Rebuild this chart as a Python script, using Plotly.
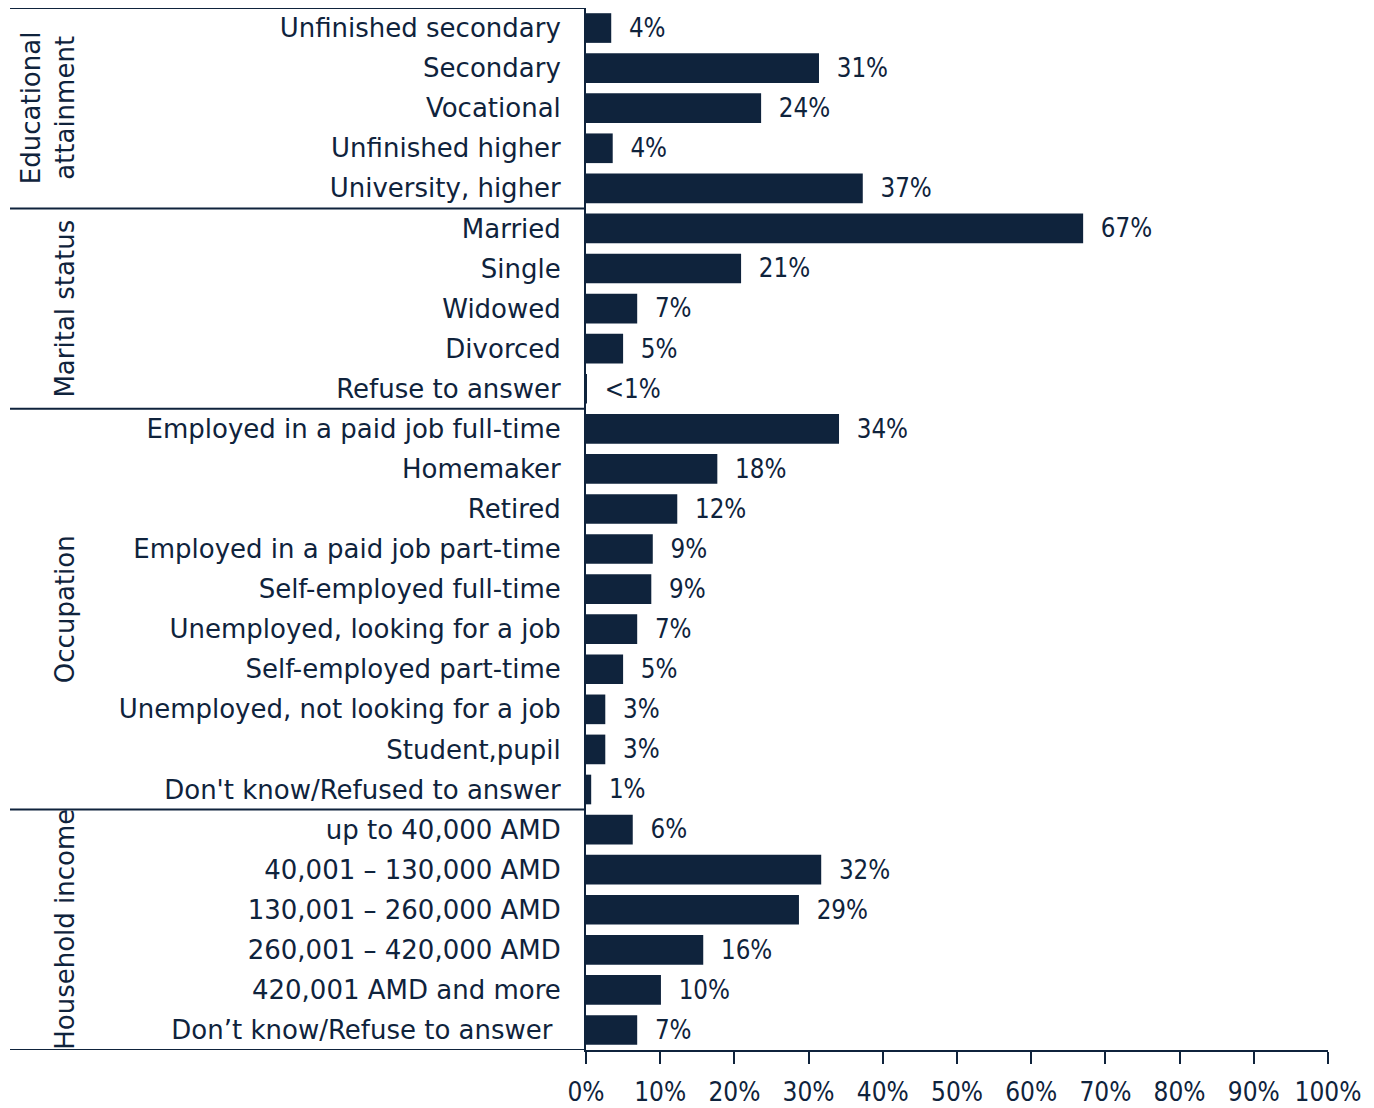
import plotly.graph_objects as go

# %% data
categories = ["Unfinished secondary", "Secondary", "Vocational", "Unfinished higher",
              "University, higher",
              "Married", "Single", "Widowed", "Divorced", "Refuse to answer",
              "Employed in a paid job full-time", "Homemaker", "Retired",
              "Employed in a paid job part-time", "Self-employed full-time",
              "Unemployed, looking for a job", "Self-employed part-time",
              "Unemployed, not looking for a job", "Student,pupil",
              "Don't know/Refused to answer",
              "up to 40,000 AMD", "40,001 \u2013 130,000 AMD", "130,001 \u2013 260,000 AMD",
              "260,001 \u2013 420,000 AMD", "420,001 AMD and more",
              "Don\u2019t know/Refuse to answer "]
values = [3.4, 31.4, 23.6, 3.6, 37.3,
          67.0, 20.9, 6.9, 5.0, 0.1,
          34.1, 17.7, 12.3, 9.0, 8.8, 6.9, 5.0, 2.6, 2.6, 0.7,
          6.3, 31.7, 28.7, 15.8, 10.1, 6.9]
value_labels = ["4%", "31%", "24%", "4%", "37%",
                "67%", "21%", "7%", "5%", "<1%",
                "34%", "18%", "12%", "9%", "9%", "7%", "5%", "3%", "3%", "1%",
                "6%", "32%", "29%", "16%", "10%", "7%"]
groups = ["Educational<br>attainment", "Marital status", "Occupation", "Household income"]
group_sizes = [5, 5, 10, 6]
x_ticks = [0, 10, 20, 30, 40, 50, 60, 70, 80, 90, 100]

navy = "#0f233c"
font_text = "DejaVu Sans, sans-serif"
font_num = "DejaVu Sans Condensed, DejaVu Sans, sans-serif"

fig = go.Figure()
fig.add_trace(go.Bar(
    x=values, y=categories, orientation="h",
    marker=dict(color=navy, line=dict(width=0)),
    width=0.74,
    text=["\u00a0\u00a0" + t for t in value_labels],
    textposition="outside",
    textfont=dict(size=26, color=navy, family=font_num),
    cliponaxis=False,
))

# page body has an 8px margin, so the figure box starts at (8, 8)
plot_left, plot_w = 578, 742
x_line = (2 - plot_left) / plot_w
shapes = []
edges = [-0.5]
for n in group_sizes:
    edges.append(edges[-1] + n)
for e in edges:
    shapes.append(dict(type="line", xref="paper", yref="y", x0=x_line, x1=0,
                       y0=e, y1=e, line=dict(color=navy, width=2)))

annos = []
for i, g in enumerate(groups):
    mid = (edges[i] + edges[i + 1]) / 2
    xpx = 40 if "<br>" in g else 57
    annos.append(dict(text=g, xref="paper", yref="y", x=(xpx - plot_left) / plot_w, y=mid,
                      textangle=-90, showarrow=False, xanchor="center", yanchor="middle",
                      font=dict(size=26, color=navy, family=font_text)))

fig.update_layout(
    width=1366, height=1100,
    margin=dict(l=578, r=46, t=0, b=58),
    plot_bgcolor="white", paper_bgcolor="white",
    showlegend=False,
    shapes=shapes, annotations=annos,
    font=dict(family=font_text, size=26, color=navy),
    xaxis=dict(range=[0, 100], tickvals=x_ticks, ticktext=[f"{v}%" for v in x_ticks],
               showgrid=False, zeroline=False, showline=True, linecolor=navy, linewidth=2,
               ticks="outside", ticklen=12, tickwidth=2, tickcolor=navy,
               ticklabelstandoff=6, automargin=False,
               tickfont=dict(size=26, color=navy, family=font_num)),
    yaxis=dict(autorange=False, range=[25.5, -0.5], type="category",
               showgrid=False, zeroline=False, showline=True, linecolor=navy, linewidth=2,
               ticks="", ticklabelstandoff=18, automargin=False,
               tickfont=dict(size=26, color=navy, family=font_text)),
)

fig.write_html("out.html")
